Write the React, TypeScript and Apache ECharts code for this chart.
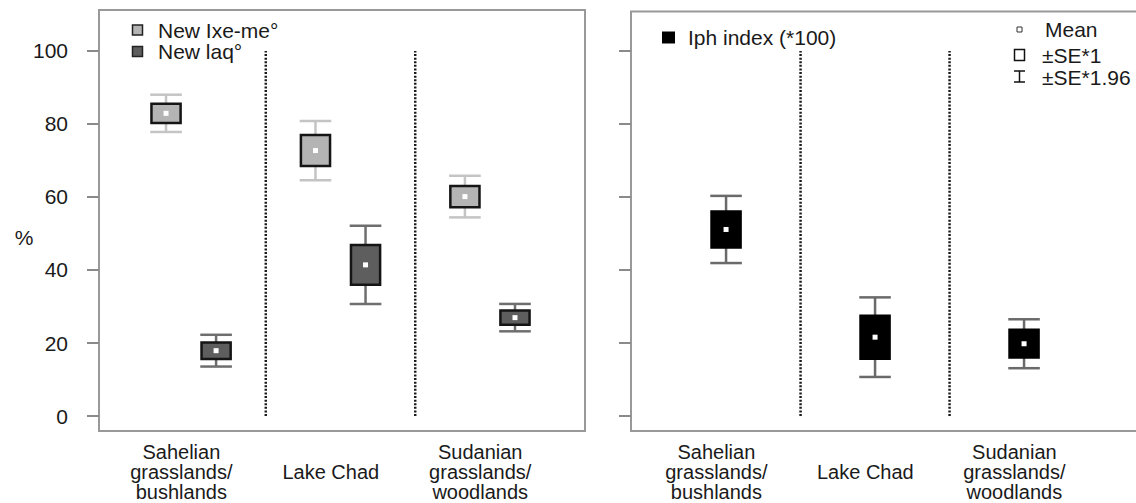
import React, { useEffect, useRef } from "react";
import * as echarts from "echarts";

// Regions on the x axis (one slot per region, at 1, 2, 3)
const categories = [
  "Sahelian\ngrasslands/\nbushlands",
  "Lake Chad",
  "Sudanian\ngrasslands/\nwoodlands",
];

// Y-axis ticks (%)
const yTicks = [0, 20, 40, 60, 80, 100];

// Left panel: mean, standard error and 1.96*SE per region
const ixeMean = [82.9, 72.7, 60.1];
const ixeSE = [2.65, 4.25, 2.9];
const ixeCI = [5.1, 8.1, 5.7];

const laqMean = [17.9, 41.4, 26.95];
const laqSE = [2.25, 5.45, 1.95];
const laqCI = [4.35, 10.7, 3.75];

// Right panel: Iph index (*100)
const iphMean = [51.1, 21.6, 19.8];
const iphSE = [4.95, 5.9, 3.8];
const iphCI = [9.2, 10.9, 6.7];

// Dotted separators between regions, spanning 0..100
const dividers = [1.5, 2.5];

const FONT = '"Liberation Sans", Arial, Helvetica, sans-serif';
const FS = 21;
const TEXT = "#1a1a1a";
const BOX_W = 0.195; // box width in x-axis units
const LABEL_SHIFT = 0.065;

type Stat = { mean: number[]; se: number[]; ci: number[] };

const toData = (s: Stat) =>
  categories.map((_, i) => [i + 1, s.mean[i], s.se[i], s.ci[i]]);

function boxRenderer(offset: number, fill: string, whisker: string, border: string) {
  return (_params: any, api: any) => {
    const x = api.value(0) + offset;
    const mean = api.value(1);
    const se = api.value(2);
    const ci = api.value(3);
    const [cx, yMean] = api.coord([x, mean]);
    const ySeHi = api.coord([x, mean + se])[1];
    const ySeLo = api.coord([x, mean - se])[1];
    const yCiHi = api.coord([x, mean + ci])[1];
    const yCiLo = api.coord([x, mean - ci])[1];
    const half = api.size([BOX_W, 0])[0] / 2;
    const capHalf = half + 1.25;
    const wStyle = { stroke: whisker, lineWidth: 2.5 };
    return {
      type: "group",
      children: [
        { type: "line", shape: { x1: cx, y1: yCiHi, x2: cx, y2: yCiLo }, style: wStyle },
        { type: "line", shape: { x1: cx - capHalf, y1: yCiHi, x2: cx + capHalf, y2: yCiHi }, style: wStyle },
        { type: "line", shape: { x1: cx - capHalf, y1: yCiLo, x2: cx + capHalf, y2: yCiLo }, style: wStyle },
        {
          type: "rect",
          shape: { x: cx - half, y: ySeHi, width: half * 2, height: ySeLo - ySeHi },
          style: { fill, stroke: border, lineWidth: 2.5 },
        },
        {
          type: "rect",
          shape: { x: cx - 2.5, y: yMean - 2.5, width: 5, height: 5 },
          style: { fill: "#ffffff" },
        },
      ],
    };
  };
}

function dividerSeries(gridIndex: number) {
  return dividers.map((d) => ({
    type: "line",
    xAxisIndex: gridIndex,
    yAxisIndex: gridIndex,
    data: [
      [d, 0],
      [d, 100],
    ],
    symbol: "none",
    silent: true,
    lineStyle: { color: "#1a1a1a", width: 2.5, type: [2, 1.6], cap: "butt" },
    z: 1,
  }));
}

function xAxis(gridIndex: number, min: number, max: number) {
  return {
    type: "value",
    gridIndex,
    min,
    max,
    axisLine: { show: false },
    axisTick: { show: false },
    splitLine: { show: false },
    axisLabel: {
      customValues: categories.map((_, i) => i + 1 - LABEL_SHIFT),
      formatter: (v: number) => categories[Math.round(v + LABEL_SHIFT) - 1] ?? "",
      fontFamily: FONT,
      fontSize: 20,
      color: TEXT,
      lineHeight: 20,
      verticalAlign: "middle",
      align: "center",
      margin: 41,
    },
  };
}

function yAxis(gridIndex: number, max: number, labels: boolean) {
  return {
    type: "value",
    gridIndex,
    min: -4.1,
    max,
    axisLine: { show: false },
    splitLine: { show: false },
    axisTick: {
      show: true,
      length: 12,
      customValues: yTicks,
      lineStyle: { color: "#8a8a8a", width: 2 },
    },
    axisLabel: {
      show: labels,
      customValues: yTicks,
      fontFamily: FONT,
      fontSize: FS,
      color: TEXT,
      margin: 31,
    },
  };
}

const txt = (text: string, x: number, y: number, align = "left") => ({
  type: "text",
  x,
  y,
  style: { text, fill: TEXT, font: `${FS}px ${FONT}`, textAlign: align, textVerticalAlign: "middle" },
});

export default function App() {
  const ref = useRef<HTMLDivElement>(null);

  useEffect(() => {
    if (!ref.current) return;
    const chart = echarts.init(ref.current, null, { renderer: "svg" });

    const option: any = {
      animation: false,
      backgroundColor: "#ffffff",
      textStyle: { fontFamily: FONT },
      grid: [
        {
          left: 99, top: 10, width: 486, height: 421,
          outerBoundsMode: "none", containLabel: false,
          show: true, borderColor: "#999", borderWidth: 2, backgroundColor: "transparent",
        },
        {
          left: 631, top: 11.5, width: 520, height: 419.5,
          outerBoundsMode: "none", containLabel: false,
          show: true, borderColor: "#999", borderWidth: 2, backgroundColor: "transparent",
        },
      ],
      xAxis: [xAxis(0, 0.384, 3.636), xAxis(1, 0.362, 3.852)],
      yAxis: [yAxis(0, 111.2, true), yAxis(1, 110.8, false)],
      series: [
        ...dividerSeries(0),
        ...dividerSeries(1),
        {
          name: "New Ixe-me°",
          type: "custom",
          xAxisIndex: 0,
          yAxisIndex: 0,
          encode: { x: 0, y: 1 },
          renderItem: boxRenderer(-0.1675, "#b4b4b4", "#c4c4c4", "#151515"),
          data: toData({ mean: ixeMean, se: ixeSE, ci: ixeCI }),
          z: 3,
        },
        {
          name: "New laq°",
          type: "custom",
          xAxisIndex: 0,
          yAxisIndex: 0,
          encode: { x: 0, y: 1 },
          renderItem: boxRenderer(0.1675, "#5e5e5e", "#6e6e6e", "#151515"),
          data: toData({ mean: laqMean, se: laqSE, ci: laqCI }),
          z: 3,
        },
        {
          name: "Iph index (*100)",
          type: "custom",
          xAxisIndex: 1,
          yAxisIndex: 1,
          encode: { x: 0, y: 1 },
          renderItem: boxRenderer(0, "#000000", "#6a6a6a", "#000000"),
          data: toData({ mean: iphMean, se: iphSE, ci: iphCI }),
          z: 3,
        },
      ],
      graphic: [
        txt("%", 24, 237, "center"),
        // left panel key
        { type: "rect", shape: { x: 132.5, y: 25, width: 10, height: 10 }, style: { fill: "#b4b4b4", stroke: "#222", lineWidth: 1.5 } },
        txt("New Ixe-me°", 158, 30),
        { type: "rect", shape: { x: 132.5, y: 46.5, width: 10, height: 10 }, style: { fill: "#5e5e5e", stroke: "#222", lineWidth: 1.5 } },
        txt("New laq°", 158, 51.5),
        // right panel key
        { type: "rect", shape: { x: 662, y: 31.5, width: 13, height: 12 }, style: { fill: "#000" } },
        txt("Iph index (*100)", 688, 37.5),
        { type: "rect", shape: { x: 1017, y: 27, width: 5, height: 5 }, style: { fill: "#fff", stroke: "#333", lineWidth: 1 } },
        txt("Mean", 1045, 29.5),
        { type: "rect", shape: { x: 1014.5, y: 49.5, width: 10, height: 11 }, style: { fill: "#fff", stroke: "#111", lineWidth: 1.5 } },
        txt("±SE*1", 1042, 55),
        { type: "line", shape: { x1: 1019.5, y1: 71, x2: 1019.5, y2: 82 }, style: { stroke: "#111", lineWidth: 1.5 } },
        { type: "line", shape: { x1: 1014, y1: 71, x2: 1025, y2: 71 }, style: { stroke: "#111", lineWidth: 1.5 } },
        { type: "line", shape: { x1: 1014, y1: 82, x2: 1025, y2: 82 }, style: { stroke: "#111", lineWidth: 1.5 } },
        txt("±SE*1.96", 1042, 77),
      ],
    };

    chart.setOption(option);
    return () => chart.dispose();
  }, []);

  return (
    <div
      ref={ref}
      style={{ position: "fixed", left: 0, top: 0, width: 1136, height: 503, background: "#fff" }}
    />
  );
}
